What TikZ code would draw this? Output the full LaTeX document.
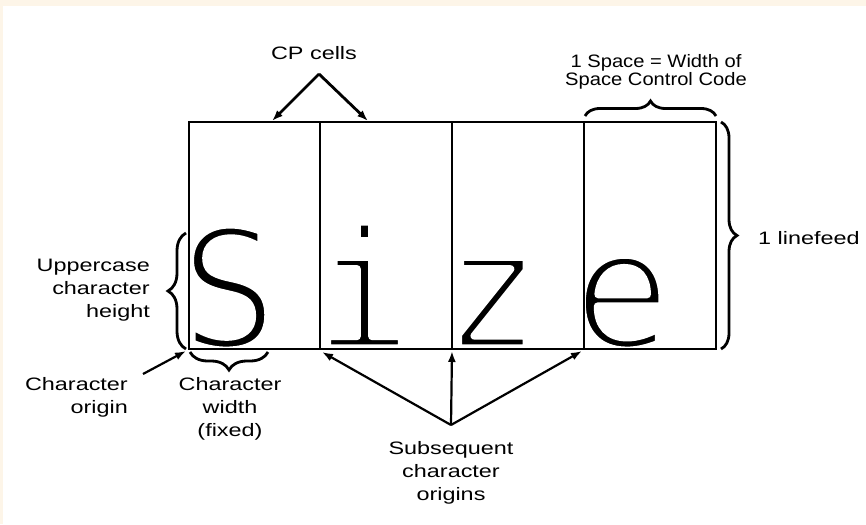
\documentclass[tikz,border=0pt]{standalone}
\usepackage{fontspec}
\usetikzlibrary{arrows.meta,decorations.pathreplacing}
\newfontfamily\labfont{Liberation Sans}[FakeStretch=1.3]
\newfontfamily\labfontn{Liberation Sans}[FakeStretch=1.12]
\newfontfamily\bigfont{DejaVu Sans Mono}[FakeBold=4.5]
\newcommand{\thinglyph}[1]{\special{pdf:literal direct 1 j 1 1 1 RG}#1\special{pdf:literal direct 0 j 0 0 0 RG}}
\definecolor{cream}{HTML}{FDF5E8}
\tikzset{
  lab/.style={font=\labfont\fontsize{18}{23}\selectfont, inner sep=0pt, text=black},
  labn/.style={font=\labfontn\fontsize{18}{18}\selectfont, inner sep=0pt, text=black},
  glyph/.style={font=\bigfont\fontsize{166}{166}\selectfont, inner sep=0pt, anchor=base},
  cell/.style={draw=black, line width=2pt},
  arr/.style={draw=black, line width=2.2pt, -{Latex[length=11pt,width=8pt]}},
  arrb/.style={arr, line width=2.8pt},
  brc/.style={draw=black, line width=2.8pt, decorate},
}
\begin{document}
\begin{tikzpicture}[x=1pt,y=-1pt]
\useasboundingbox (0,0) rectangle (866,524);
\fill[cream] (0,0) rectangle (866,524);
\fill[white] (3,6) rectangle (866,524);
% big letters
\node[glyph] (S) at (229,348) {\thinglyph{S}};
\node[glyph] (I) at (363,348) {\thinglyph{i}};
\node[glyph] (Z) at (492,348) {\thinglyph{z}};
\node[glyph] (E) at (622,348) {\thinglyph{e}};
% cells
\coordinate (tl) at (189,122);
\coordinate (tr) at (716,122);
\coordinate (bl) at (189,349);
\coordinate (br) at (716,349);
\coordinate (t2) at (320,122); \coordinate (b2) at (320,349);
\coordinate (t3) at (452,122); \coordinate (b3) at (452,349);
\coordinate (t4) at (584,122); \coordinate (b4) at (584,349);
\draw[cell] (tl) rectangle (br);
\draw[cell] (t2) -- (b2);
\draw[cell] (t3) -- (b3);
\draw[cell] (t4) -- (b4);
% labels
\node[lab, anchor=base] (cp) at (314,60) {CP cells};
\node[labn, anchor=base, align=center] (sp) at (656,86) {1 Space = Width of\\Space Control Code};
\node[lab, anchor=base west] (lf) at (758,244) {1 linefeed};
\node[lab, anchor=base east, align=right] (uc) at (150,317) {Uppercase\\character\\height};
\node[lab, anchor=base east, align=right] (co) at (128,413) {Character\\origin};
\node[lab, anchor=base, align=center] (cw) at (230,436) {Character\\width\\(fixed)};
\node[lab, anchor=base, align=center] (so) at (451,500) {Subsequent\\character\\origins};
% CP arrows
\coordinate (cpA) at (319,74);
\coordinate (cp1) at (272,121);
\coordinate (cp2) at (368,121);
\draw[arrb] (cpA) -- (cp1);
\draw[arrb] (cpA) -- (cp2);
% origin arrow
\coordinate (coA) at (143,374);
\coordinate (coT) at (186,351);
\draw[arr] (coA) -- (coT);
% subsequent arrows
\coordinate (soA) at (451,425);
\coordinate (so1) at (322,352);
\coordinate (so2) at (452,351);
\coordinate (so3) at (582,351);
\draw[arr] (soA) -- (so1);
\draw[arr] (soA) -- (so2);
\draw[arr] (soA) -- (so3);
% braces
\coordinate (bt1) at (585,116); \coordinate (bt2) at (716,116);
\draw[brc, decoration={brace, amplitude=15pt}] (bt1) -- (bt2);
\coordinate (br1) at (721,122); \coordinate (br2) at (721,349);
\draw[brc, decoration={brace, amplitude=16pt}] (br1) -- (br2);
\coordinate (bl1) at (186,349); \coordinate (bl2) at (186,233);
\draw[brc, decoration={brace, amplitude=18pt}] (bl1) -- (bl2);
\coordinate (bb1) at (268,352); \coordinate (bb2) at (190,352);
\draw[brc, decoration={brace, amplitude=18pt}] (bb1) -- (bb2);
\end{tikzpicture}
\end{document}
